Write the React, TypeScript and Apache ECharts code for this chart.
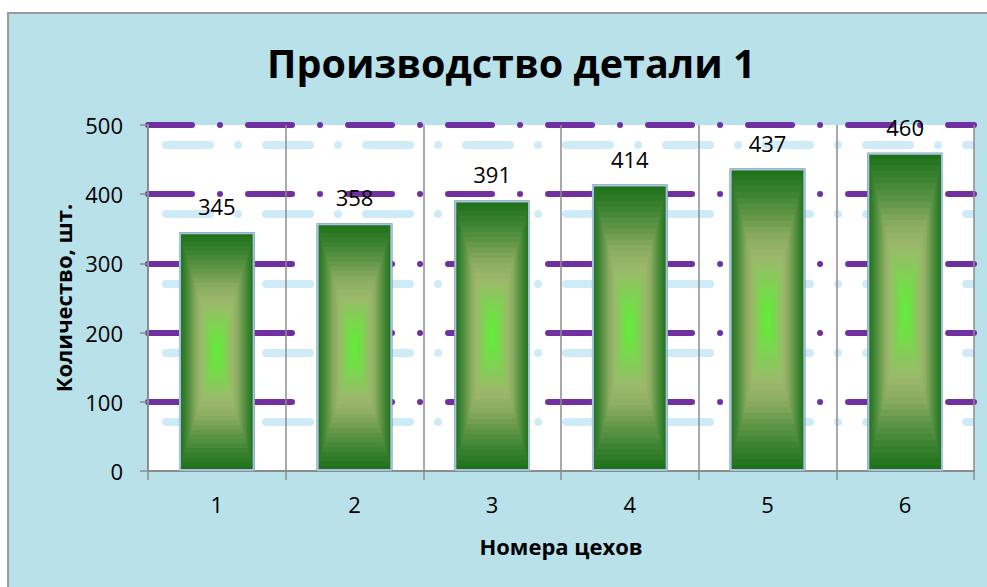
import React, { useEffect, useRef } from "react";
import * as echarts from "echarts";

const categories = ["1", "2", "3", "4", "5", "6"];
const values = [345, 358, 391, 414, 437, 460];
const yTicks = { min: 0, max: 500, interval: 100 };
const titleText = "Производство детали 1";
const yName = "Количество, шт.";
const xName = "Номера цехов";

const FONT = "'Open Sans', Lato, sans-serif";
const DASH = [44, 28, 0.01, 28];
// colours of the rectangular "from centre" gradient: centre -> edge
const GRAD = ["#5ef23a", "#6fe044", "#86cc58", "#9cb86c", "#8aab60", "#5f9546", "#3a8230", "#1f711a"];
const BAR_FRACTION = 0.55;
const STEPS = 26;

export default function App() {
  const ref = useRef<HTMLDivElement>(null);
  useEffect(() => {
    if (!ref.current) return;
    const chart = echarts.init(ref.current, undefined, { renderer: "svg" });
    const hidden = {
      axisLine: { show: false },
      axisTick: { show: false },
      axisLabel: { show: false },
    };
    const renderBar = (params: any, api: any) => {
      const xi = api.value(0);
      const v = api.value(1);
      const top = api.coord([xi, v]);
      const base = api.coord([xi, 0]);
      const bw = api.size([1, 0])[0] * BAR_FRACTION;
      const x0 = top[0] - bw / 2;
      const y0 = top[1];
      const h = base[1] - top[1];
      const children: any[] = [];
      for (let i = 0; i < STEPS; i++) {
        const t = i / STEPS; // 0 = outer edge
        const dx = (t * bw) / 2;
        const dy = (t * h) / 2;
        children.push({
          type: "rect",
          shape: { x: x0 + dx, y: y0 + dy, width: bw - 2 * dx, height: h - 2 * dy },
          style: { fill: echarts.color.lerp(1 - t, GRAD) },
        });
      }
      return { type: "group", children };
    };
    chart.setOption({
      animation: false,
      backgroundColor: "#ffffff",
      textStyle: { fontFamily: FONT },
      graphic: [
        {
          type: "rect",
          silent: true,
          z: -10,
          shape: { x: 8, y: 13, width: 990, height: 590 },
          style: { fill: "#b8e1ea", stroke: "#9a9a9a", lineWidth: 2 },
        },
      ],
      title: {
        text: titleText,
        left: 262,
        top: 38,
        textStyle: { fontSize: 39.5, fontWeight: "bold", color: "#000", fontFamily: FONT },
      },
      grid: [
        {
          left: 148,
          right: 13,
          top: 125,
          bottom: 116,
          show: true,
          backgroundColor: "#ffffff",
          borderWidth: 0,
          z: 0,
        },
        {
          left: 166,
          right: 13,
          top: 145,
          bottom: 96,
          show: false,
        },
      ],
      xAxis: [
        {
          type: "category",
          gridIndex: 0,
          data: categories,
          boundaryGap: true,
          z: 3,
          name: xName,
          nameLocation: "middle",
          nameGap: 64,
          nameTextStyle: { fontSize: 22, fontWeight: "bold", color: "#000", fontFamily: FONT },
          axisLine: { show: true, lineStyle: { color: "#8c8c8c", width: 2 } },
          axisTick: { show: true, length: 9, lineStyle: { color: "#8c8c8c", width: 1.5 } },
          axisLabel: { fontSize: 22, color: "#000", margin: 22, fontFamily: FONT },
          splitLine: { show: true, lineStyle: { color: "#8c8c8c", width: 1.5 } },
        },
        {
          type: "category",
          gridIndex: 1,
          data: categories,
          z: 1,
          ...hidden,
          splitLine: { show: false },
        },
      ],
      yAxis: [
        {
          type: "value",
          gridIndex: 0,
          ...yTicks,
          z: 2,
          name: yName,
          nameLocation: "middle",
          nameRotate: 90,
          nameGap: 73,
          nameTextStyle: { fontSize: 22, fontWeight: "bold", color: "#000", fontFamily: FONT },
          axisLine: { show: true, lineStyle: { color: "#8c8c8c", width: 2 } },
          axisTick: { show: true, length: 8, lineStyle: { color: "#8c8c8c", width: 1.5 } },
          axisLabel: { fontSize: 22, color: "#000", margin: 25, fontFamily: FONT },
          splitLine: {
            show: true,
            showMinLine: false,
            lineStyle: { color: "#7030a0", width: 6, type: DASH, cap: "round" },
          },
        },
        {
          type: "value",
          gridIndex: 1,
          ...yTicks,
          z: 1,
          ...hidden,
          splitLine: {
            show: true,
            showMinLine: false,
            lineStyle: { color: "rgba(180,225,243,0.65)", width: 8, type: DASH, cap: "round" },
          },
        },
      ],
      series: [
        {
          type: "custom",
          xAxisIndex: 0,
          yAxisIndex: 0,
          z: 4,
          data: values.map((v, i) => [i, v]),
          encode: { x: 0, y: 1 },
          renderItem: renderBar,
        },
        {
          type: "bar",
          xAxisIndex: 0,
          yAxisIndex: 0,
          data: values,
          barWidth: BAR_FRACTION * 100 + "%",
          z: 5,
          itemStyle: { color: "rgba(0,0,0,0)", borderColor: "#a8c2e6", borderWidth: 2 },
          label: {
            show: true,
            position: "top",
            distance: 15,
            fontSize: 22,
            color: "#000",
            fontFamily: FONT,
          },
        },
      ],
    });
    return () => chart.dispose();
  }, []);
  return (
    <div
      ref={ref}
      style={{ position: "fixed", left: 0, top: 0, width: 987, height: 587 }}
    />
  );
}
